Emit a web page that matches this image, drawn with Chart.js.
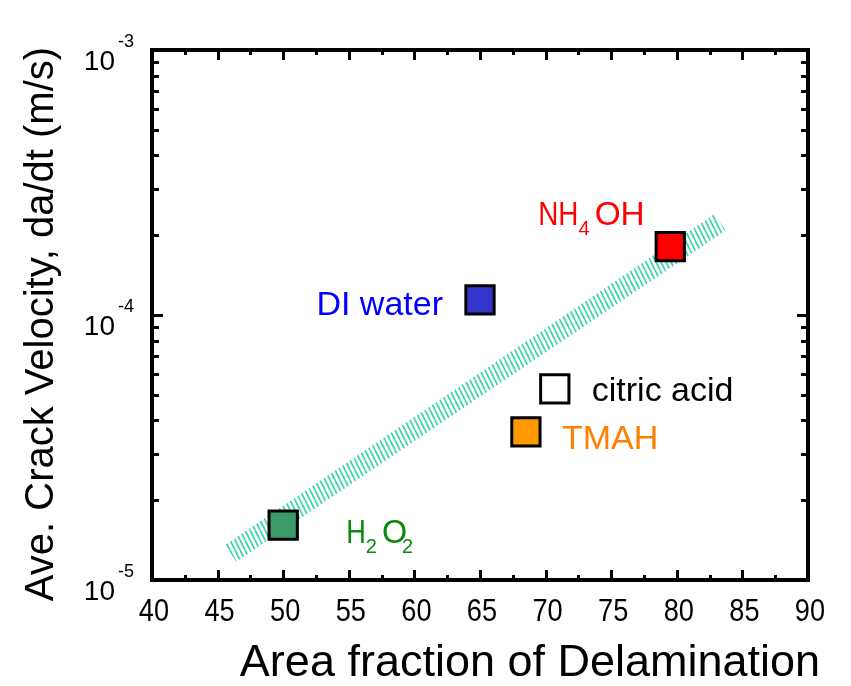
<!DOCTYPE html>
<html>
<head>
<meta charset="utf-8">
<script src="https://cdn.jsdelivr.net/npm/chart.js@4.4.1/dist/chart.umd.min.js"></script>
<style>
  html, body { margin: 0; padding: 0; background: #ffffff; }
  #wrap { width: 851px; height: 686px; }
</style>
</head>
<body>
<div id="wrap"><canvas id="chart" width="851" height="686"></canvas></div>
<script>
// Etching solutions and their measured delamination / crack velocity
const solutions = ['H2O2', 'DI water', 'TMAH', 'citric acid', 'NH4OH'];
const areaFraction = [50, 65, 68.5, 70.7, 79.5];
const crackVelocity = [1.61e-5, 1.14e-4, 3.62e-5, 5.26e-5, 1.81e-4];

// Trend band end points
const trendArea = [46, 83.3];
const trendVelocity = [1.26e-5, 2.24e-4];

// Axis ranges and tick values
const xTickValues = [40, 45, 50, 55, 60, 65, 70, 75, 80, 85, 90];
const yDecades = [1e-5, 1e-4, 1e-3];
const yExponents = ['-5', '-4', '-3'];
const xTitle = 'Area fraction of Delamination';
const yTitle = 'Ave. Crack Velocity, da/dt (m/s)';

// Marker fills and label text per solution
const markerFill = ['#3a9a68', '#3535cc', '#ff9900', '#ffffff', '#ff0000'];
const labelColor = ['#0a8a0a', '#0000ff', '#ff8000', '#000000', '#ff0000'];
// label pieces: [text, subscript, horizontal squeeze, gap before]
const labelParts = {
  'H2O2': [['H', 0, 0.8, 0], ['2', 1, 1, 0], ['O', 0, 0.95, 5], ['2', 1, 1, -5]],
  'DI water': [['DI water', 0, 1, 0]],
  'TMAH': [['TMAH', 0, 1, 0]],
  'citric acid': [['citric acid', 0, 1, 0]],
  'NH4OH': [['NH', 0, 0.82, 0], ['4', 1, 1, 0], ['OH', 0, 0.98, 5]]
};
// label anchor relative to the marker centre: [dx, dy, align]
const labelPlace = {
  'H2O2': [63, 6, 'left'],
  'DI water': [-37, 3, 'right'],
  'TMAH': [36, 5, 'left'],
  'citric acid': [37, 0, 'left'],
  'NH4OH': [-132, -34, 'left']
};

const FONT = '"Liberation Sans", Arial, Helvetica, sans-serif';

// hatched fill for the trend band
function makeHatch() {
  const c = document.createElement('canvas');
  c.width = 5; c.height = 10;
  const g = c.getContext('2d');
  g.strokeStyle = '#3ed3ad';
  g.lineWidth = 1.7;
  for (let k = -1; k <= 1; k++) {
    g.beginPath();
    g.moveTo(k * 5, 0);
    g.lineTo(k * 5 + 5, 10);
    g.stroke();
  }
  return g.createPattern(c, 'repeat');
}

function squeezedText(ctx, text, x, y, sx) {
  ctx.save();
  ctx.translate(x, y);
  ctx.scale(sx, 1);
  ctx.fillText(text, 0, 0);
  ctx.restore();
}

const framePlugin = {
  id: 'frame',
  afterDraw(chart) {
    const { ctx, chartArea: a, scales: { x, y } } = chart;
    ctx.save();
    ctx.strokeStyle = '#000';
    ctx.lineWidth = 3;
    ctx.lineCap = 'butt';
    // inward ticks on all four sides
    ctx.beginPath();
    for (let v = 40; v <= 90; v += 2.5) {
      const px = Math.round(x.getPixelForValue(v)) + 0.5;
      const len = v % 5 === 0 ? 10 : 5;
      ctx.moveTo(px, a.bottom); ctx.lineTo(px, a.bottom - len);
      ctx.moveTo(px, a.top); ctx.lineTo(px, a.top + len);
    }
    for (let d = 0; d < yDecades.length - 1; d++) {
      for (let m = 1; m <= 9; m++) {
        const v = yDecades[d] * m;
        const py = Math.round(y.getPixelForValue(v)) + 0.5;
        const len = m === 1 ? 11 : 7;
        ctx.moveTo(a.left, py); ctx.lineTo(a.left + len, py);
        ctx.moveTo(a.right, py); ctx.lineTo(a.right - len, py);
      }
    }
    ctx.stroke();
    // frame
    ctx.lineWidth = 4;
    ctx.strokeRect(a.left, a.top, a.right - a.left, a.bottom - a.top);

    ctx.fillStyle = '#000';
    ctx.textBaseline = 'alphabetic';

    // x tick labels
    ctx.font = '32px ' + FONT;
    xTickValues.forEach(v => {
      const px = x.getPixelForValue(v);
      const t = String(v);
      const w = ctx.measureText(t).width * 0.85;
      squeezedText(ctx, t, px - w / 2 + 2, a.bottom + 41, 0.85);
    });

    // y tick labels as powers of ten
    yDecades.forEach((v, i) => {
      const py = y.getPixelForValue(v);
      ctx.font = '28px ' + FONT;
      ctx.textAlign = 'right';
      ctx.fillText('10', a.left - 37, py + 20);
      ctx.font = '18px ' + FONT;
      ctx.textAlign = 'left';
      ctx.fillText(yExponents[i], a.left - 34, py - 3);
    });

    // axis titles
    ctx.textAlign = 'center';
    ctx.textBaseline = 'middle';
    ctx.font = '45px ' + FONT;
    ctx.fillText(xTitle, (a.left + a.right) / 2 + 50, 664);
    ctx.save();
    ctx.translate(42, 324);
    ctx.rotate(-Math.PI / 2);
    ctx.font = '40px ' + FONT;
    ctx.fillText(yTitle, 0, 0);
    ctx.restore();

    // point labels with subscripts
    ctx.textAlign = 'left';
    ctx.textBaseline = 'alphabetic';
    solutions.forEach((name, i) => {
      const px = x.getPixelForValue(areaFraction[i]);
      const py = y.getPixelForValue(crackVelocity[i]);
      const [dx, dy, align] = labelPlace[name];
      const parts = labelParts[name];
      const fontFor = sub => (sub ? '20px ' : '34px ') + FONT;
      let w = 0;
      parts.forEach(([t, sub, sx, gap]) => { ctx.font = fontFor(sub); w += gap + ctx.measureText(t).width * sx; });
      let cx = align === 'right' ? px + dx - w : px + dx;
      const base = py + dy + 12;
      ctx.fillStyle = labelColor[i];
      parts.forEach(([t, sub, sx, gap]) => {
        ctx.font = fontFor(sub);
        cx += gap;
        squeezedText(ctx, t, cx, sub ? base + 10 : base, sx);
        cx += ctx.measureText(t).width * sx;
      });
    });
    ctx.restore();
  }
};

new Chart(document.getElementById('chart'), {
  type: 'scatter',
  data: {
    datasets: [
      {
        type: 'line',
        data: trendArea.map((v, i) => ({ x: v, y: trendVelocity[i] })),
        borderColor: makeHatch(),
        borderWidth: 20,
        borderCapStyle: 'butt',
        pointRadius: 0,
        fill: false,
        order: 2
      },
      {
        type: 'scatter',
        data: areaFraction.map((v, i) => ({ x: v, y: crackVelocity[i] })),
        pointStyle: 'rect',
        pointRadius: 20,
        backgroundColor: markerFill,
        borderColor: '#000000',
        borderWidth: 3,
        order: 1
      }
    ]
  },
  options: {
    responsive: false,
    animation: false,
    devicePixelRatio: 1,
    layout: { padding: { left: 0, right: 43, top: 50, bottom: 0 } },
    plugins: { legend: { display: false }, tooltip: { enabled: false } },
    scales: {
      x: {
        type: 'linear',
        min: 40, max: 90,
        afterBuildTicks(s) { s.ticks = xTickValues.map(v => ({ value: v })); },
        ticks: { display: false },
        grid: { display: false, drawTicks: false },
        border: { display: false },
        afterFit(s) { s.height = 106; }
      },
      y: {
        type: 'logarithmic',
        min: 1e-5, max: 1e-3,
        ticks: { display: false },
        grid: { display: false, drawTicks: false },
        border: { display: false },
        afterFit(s) { s.width = 152; }
      }
    }
  },
  plugins: [framePlugin]
});
</script>
</body>
</html>
